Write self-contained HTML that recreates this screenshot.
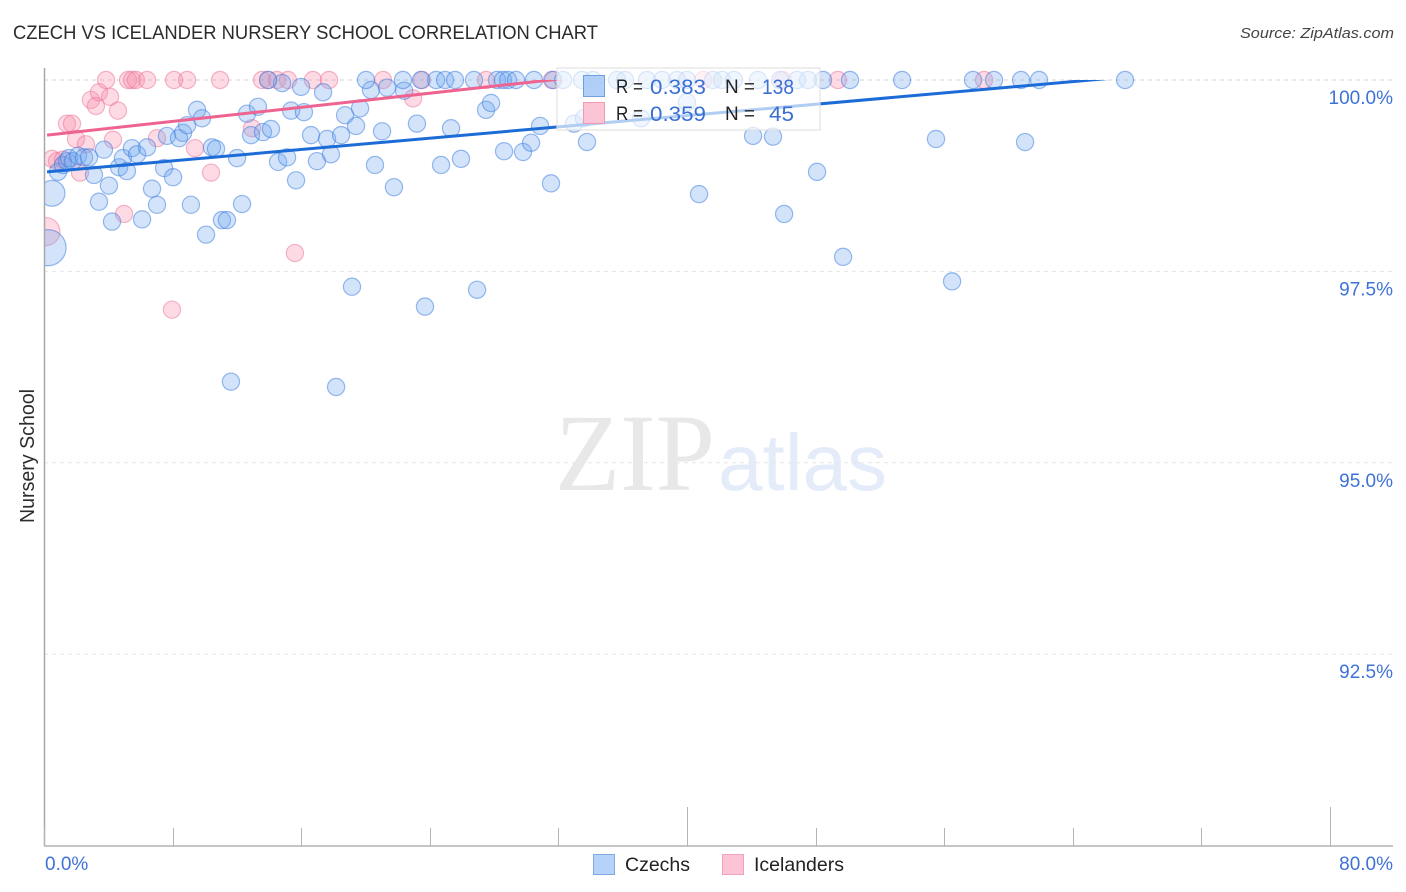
<!DOCTYPE html>
<html lang="en">
<head>
<meta charset="utf-8">
<title>Czech vs Icelander Nursery School Correlation Chart</title>
<style>
html,body{margin:0;padding:0;background:#fff;width:1406px;height:892px;overflow:hidden}
svg{display:block;font-family:"Liberation Sans",sans-serif}
</style>
</head>
<body>
<svg id="chart" xmlns="http://www.w3.org/2000/svg" width="1406" height="892" viewBox="0 0 1406 892">
  <defs>
    <clipPath id="plot-clip"><rect x="45" y="60" width="1348" height="786"/></clipPath>
    <clipPath id="line-clip"><rect x="45" y="80" width="1348" height="766"/></clipPath>
  </defs>
  <text x="13" y="39" font-size="19" fill="#2c2c2c" textLength="585" lengthAdjust="spacingAndGlyphs">CZECH VS ICELANDER NURSERY SCHOOL CORRELATION CHART</text>
  <text x="1394" y="38" font-size="15" font-style="italic" fill="#444" text-anchor="end" textLength="154" lengthAdjust="spacingAndGlyphs">Source: ZipAtlas.com</text>
  <g>
    <text x="555" y="490" font-family="'Liberation Serif',serif" font-size="110" fill="#e8e8e8" textLength="160" lengthAdjust="spacingAndGlyphs">ZIP</text>
    <text x="718" y="490" font-size="80" fill="#e4ecf9" textLength="169" lengthAdjust="spacingAndGlyphs">atlas</text>
  </g>
  <g id="grid"></g>
  <g id="axes"></g>
  <g id="points" clip-path="url(#plot-clip)"></g>
  <g id="trends" clip-path="url(#line-clip)"></g>
  <text transform="translate(34,456) rotate(-90)" font-size="20" fill="#2c2c2c" text-anchor="middle" textLength="134" lengthAdjust="spacingAndGlyphs">Nursery School</text>
  <g>
    <rect x="557" y="68" width="263" height="62" fill="#fff" fill-opacity="0.66" stroke="#dcdcdc" stroke-width="1"/>
    <rect x="583.5" y="75.5" width="21" height="21" fill="#a9cbf6" fill-opacity="0.9" stroke="#6f9fe0"/>
    <rect x="583.5" y="102.5" width="21" height="21" fill="#fbbfd1" fill-opacity="0.9" stroke="#f09ab4"/>
    <text x="616" y="93" font-size="19" fill="#222" textLength="27" lengthAdjust="spacingAndGlyphs">R =</text>
    <text x="650" y="94" font-size="21" fill="#3a70d4" textLength="56" lengthAdjust="spacingAndGlyphs">0.383</text>
    <text x="725" y="93" font-size="19" fill="#222" textLength="30" lengthAdjust="spacingAndGlyphs">N =</text>
    <text x="762" y="94" font-size="21" fill="#3a70d4" textLength="32" lengthAdjust="spacingAndGlyphs">138</text>
    <text x="616" y="120" font-size="19" fill="#222" textLength="27" lengthAdjust="spacingAndGlyphs">R =</text>
    <text x="650" y="121" font-size="21" fill="#3a70d4" textLength="56" lengthAdjust="spacingAndGlyphs">0.359</text>
    <text x="725" y="120" font-size="19" fill="#222" textLength="30" lengthAdjust="spacingAndGlyphs">N =</text>
    <text x="769" y="121" font-size="21" fill="#3a70d4" textLength="25" lengthAdjust="spacingAndGlyphs">45</text>
  </g>
  <g>
    <rect x="593.5" y="854.5" width="21" height="20" fill="#b5d2f8" stroke="#7fa9e4"/>
    <text x="625" y="871" font-size="19.5" fill="#222">Czechs</text>
    <rect x="722.5" y="854.5" width="21" height="20" fill="#fcc4d5" stroke="#f0a3ba"/>
    <text x="754" y="871" font-size="19.5" fill="#222">Icelanders</text>
  </g>
</svg>
<script>
const xTickValues = [0, 8, 16, 24, 32, 40, 48, 56, 64, 72, 80];
const xEdgeTicks = [0, 80];
const xEdgeLabels = ["0.0%", "80.0%"];
const yTickValues = [100, 97.5, 95, 92.5];
const yTickLabels = ["100.0%", "97.5%", "95.0%", "92.5%"];

const czechTopX = [13.94,20.03,22.33,23.45,24.39,24.95,25.57,26.75,28.18,28.55,28.87,29.36,30.48,31.67,32.29,33.47,34.15,35.65,36.14,37.51,38.45,39.38,40.00,41.62,42.18,42.92,44.42,45.79,46.84,47.53,48.46,50.14,53.38,57.79,59.10,60.78,61.90,67.25];
const czechX = [0.25,0.50,0.87,1.18,1.43,1.56,1.80,2.12,2.49,2.80,3.11,3.42,3.73,4.04,4.23,4.67,4.91,5.16,5.47,5.79,6.10,6.41,6.72,7.03,7.47,7.65,8.03,8.40,8.65,8.90,9.14,9.52,9.83,10.08,10.45,10.70,11.07,11.38,11.63,12.01,12.32,12.63,12.88,13.31,13.62,14.12,14.56,14.81,15.12,15.37,15.68,15.99,16.17,16.61,16.98,17.36,17.61,17.85,18.17,18.48,18.73,19.16,19.41,19.66,20.34,20.59,21.03,21.34,21.77,22.40,23.20,23.70,24.70,25.32,25.94,26.94,27.50,27.81,28.62,29.80,30.30,30.86,31.54,32.97,33.59,33.78,37.14,40.00,40.75,44.11,45.35,46.04,48.09,49.71,55.49,56.49,61.03];
const czechY = [97.81,98.52,98.80,98.89,98.94,98.98,98.94,99.01,98.99,98.99,98.76,98.41,99.09,98.62,98.15,98.86,98.98,98.81,99.11,99.03,98.18,99.12,98.58,98.37,98.85,99.27,98.73,99.24,99.31,99.41,98.37,99.61,99.50,97.98,99.12,99.10,98.17,98.17,96.06,98.98,98.38,99.56,99.28,99.65,99.32,99.36,98.93,99.96,98.99,99.60,98.69,99.91,99.58,99.28,98.94,99.84,99.23,99.03,95.99,99.28,99.54,97.30,99.40,99.63,99.87,98.89,99.33,99.90,98.60,99.86,99.43,97.04,98.89,99.37,98.97,97.26,99.61,99.70,99.07,99.06,99.18,99.40,98.65,99.43,99.50,99.19,99.50,99.71,98.51,99.27,99.26,98.25,98.80,97.69,99.23,97.37,99.19];
const czechLeadWeights = [2.1, 1.5];

const icelanderTopX = [3.86,5.23,5.47,5.72,6.41,8.09,8.90,10.95,13.56,13.94,14.49,15.18,16.73,17.73,21.09,23.52,27.50,31.60,41.00,45.97,49.39,58.48];
const icelanderX = [0.12,0.50,0.81,1.18,1.43,1.74,1.99,2.24,2.61,2.92,3.23,3.42,4.11,4.29,4.60,4.98,7.03,7.96,9.39,10.39,12.94,15.61,22.96];
const icelanderY = [98.02,98.97,98.94,98.96,99.43,99.43,99.23,98.79,99.16,99.74,99.66,99.84,99.78,99.22,99.60,98.25,99.24,97.00,99.11,98.79,99.37,97.74,99.76];
const icelanderLeadWeights = [1.63];

const czechTrendX = [0.19, 70];
const czechTrendY = [98.80, 100.09];
const icelanderTrendX = [0.19, 45];
const icelanderTrendY = [99.28, 100.31];

const SVGNS = "http://www.w3.org/2000/svg";
function xScale(v) { return 44 + v * 16.075; }
function yScale(v) { return 80 + (100 - v) * 76.56; }
function make(tag, parent, attrs) {
  const el = document.createElementNS(SVGNS, tag);
  for (const k in attrs) el.setAttribute(k, attrs[k]);
  parent.appendChild(el);
  return el;
}
const gridG = document.getElementById("grid");
const axesG = document.getElementById("axes");
const pointsG = document.getElementById("points");
const trendsG = document.getElementById("trends");

yTickValues.forEach(function (v, i) {
  const line = make("line", gridG, { x1: 44, x2: 1393, y1: yScale(v), y2: yScale(v), stroke: i === 0 ? "#d4d4d4" : "#e6e6e6", "stroke-width": 1, "stroke-dasharray": "4 4" });
  
  
  const label = make("text", axesG, { x: 1393, y: yScale(v) + 24, "font-size": 19, fill: "#3f72d6", "text-anchor": "end" });
  label.textContent = yTickLabels[i];
  
  
});

const yAxisLine = make("line", axesG, { x1: 44.5, x2: 44.5, y1: 68, y2: 846, stroke: "#a8a8a8", "stroke-width": 1.5 });


const xAxisLine = make("line", axesG, { x1: 44, x2: 1393, y1: 846, y2: 846, stroke: "#b4b4b4", "stroke-width": 1.5 });



xTickValues.forEach(function (v) {
  const major = v === 40 || v === 80;
  const px = Math.round(xScale(v)) + 0.5;
  const tick = make("line", axesG, { x1: px, x2: px, y1: major ? 807 : 828, y2: 846, stroke: "#b4b4b4", "stroke-width": 1 });
  
  
});
xEdgeTicks.forEach(function (v, i) {
  const label = make("text", axesG, { x: i === 0 ? 45 : 1393, y: 870, "font-size": 19, fill: "#3f72d6", "text-anchor": i === 0 ? "start" : "end" });
  label.textContent = xEdgeLabels[i];
  
  
});

const BASE_R = 8.6;
function drawPoint(xv, yv, w, fill, stroke, series) {
  const c = make("circle", pointsG, { cx: xScale(xv), cy: yScale(yv), r: BASE_R * w, fill: fill, stroke: stroke, "stroke-width": 1.2 });
  
  
}
const PINK_FILL = "rgba(250,140,172,0.32)", PINK_STROKE = "rgba(236,115,150,0.5)";
const BLUE_FILL = "rgba(115,168,240,0.32)", BLUE_STROKE = "rgba(55,122,222,0.5)";
icelanderX.forEach(function (x, i) {
  drawPoint(x, icelanderY[i], icelanderLeadWeights[i] || 1, PINK_FILL, PINK_STROKE, "icelander-point");
});
icelanderTopX.forEach(function (x) {
  drawPoint(x, 100, 1, PINK_FILL, PINK_STROKE, "icelander-point");
});
czechX.forEach(function (x, i) {
  drawPoint(x, czechY[i], czechLeadWeights[i] || 1, BLUE_FILL, BLUE_STROKE, "czech-point");
});
czechTopX.forEach(function (x) {
  drawPoint(x, 100, 1, BLUE_FILL, BLUE_STROKE, "czech-point");
});

const pinkTrend = make("line", trendsG, { x1: xScale(icelanderTrendX[0]), y1: yScale(icelanderTrendY[0]), x2: xScale(icelanderTrendX[1]), y2: yScale(icelanderTrendY[1]), stroke: "#ee6390", "stroke-width": 3 });


const blueTrend = make("line", trendsG, { x1: xScale(czechTrendX[0]), y1: yScale(czechTrendY[0]), x2: xScale(czechTrendX[1]), y2: yScale(czechTrendY[1]), stroke: "#1c6cd8", "stroke-width": 3 });


</script>
</body>
</html>
